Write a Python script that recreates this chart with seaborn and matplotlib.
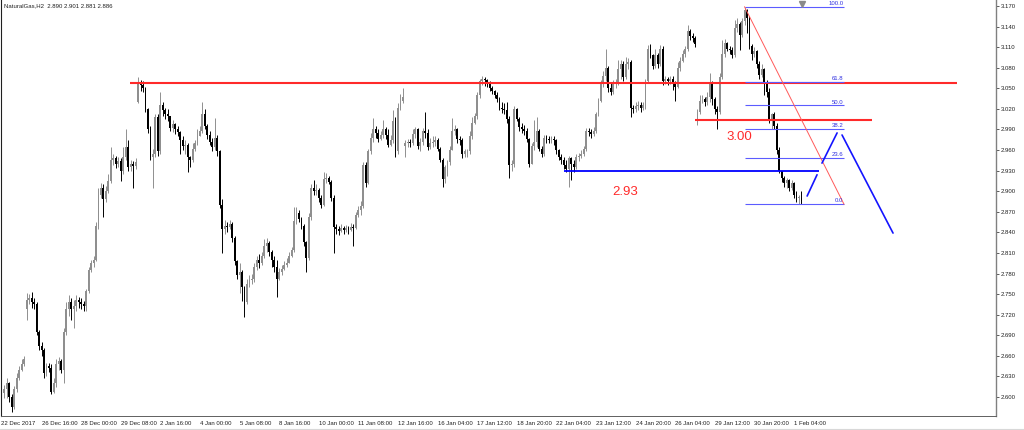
import matplotlib
matplotlib.use("Agg")
import matplotlib.pyplot as plt
import matplotlib.transforms as mtransforms
import seaborn as sns
import numpy as np
import pandas as pd

symbol = "NaturalGas,H2"
last_quote = "2.890 2.901 2.881 2.886"

# H2 candles (open = previous close unless listed in gap_open)
close = [
    2.612, 2.620, 2.600, 2.585, 2.612, 2.628, 2.640, 2.648, 2.655,
    2.742, 2.745, 2.738, 2.735, 2.695, 2.675, 2.668, 2.635, 2.645, 2.643, 2.608, 2.620, 2.648, 2.652,
    2.640, 2.695, 2.728, 2.738, 2.728, 2.733, 2.742, 2.738, 2.735, 2.732,
    2.755, 2.785, 2.795, 2.800, 2.850, 2.895, 2.905, 2.888, 2.900, 2.915, 2.945, 2.948, 2.940, 2.944,
    2.930, 2.950, 2.965, 2.935, 2.940, 2.937, 2.942,
    3.058, 3.055, 3.050, 3.020, 2.990, 2.950, 2.955, 3.008, 2.958, 3.025, 3.018, 3.012, 3.010, 2.992,
    2.998, 2.990, 2.986, 2.975, 2.966, 2.968, 2.950, 2.946, 2.962, 2.970, 2.980, 2.988, 3.012, 2.995,
    2.982, 2.972, 2.965, 2.978, 2.958, 2.880, 2.845,
    2.850, 2.848, 2.852, 2.832, 2.798, 2.778, 2.782, 2.760, 2.738, 2.765,
    2.770, 2.772, 2.790, 2.800, 2.795, 2.805, 2.820, 2.825, 2.812, 2.800,
    2.790, 2.772, 2.782, 2.786, 2.792, 2.796, 2.806, 2.814, 2.856, 2.868,
    2.860, 2.850, 2.826, 2.802, 2.862, 2.905, 2.900, 2.902, 2.890, 2.880,
    2.918, 2.920, 2.914, 2.890, 2.848, 2.845, 2.842, 2.846, 2.844, 2.846,
    2.843, 2.848, 2.846, 2.865, 2.872, 2.878, 2.938, 2.912, 2.958, 2.978,
    2.990, 2.985, 2.976, 2.982, 2.990, 2.982, 2.968, 2.975, 3.002, 2.958,
    3.022, 3.032, 3.038,
    2.970, 2.972, 2.970, 2.984, 2.990, 2.966, 2.972, 2.988, 2.985, 2.964,
    2.970, 2.972, 2.975, 2.962, 2.946, 2.918, 2.935, 2.942, 2.960, 2.988,
    2.990, 2.976, 2.974, 2.955, 2.958, 2.958, 2.980, 3.000, 3.010, 3.040,
    3.060, 3.064, 3.062, 3.058, 3.050, 3.046, 3.040, 3.035, 3.022, 3.020,
    3.018, 3.006, 2.938, 2.940, 3.020, 3.006, 2.993, 2.990, 2.988, 2.976,
    2.940, 2.966, 2.972, 2.988, 2.962, 2.955, 2.978, 2.976, 2.975, 2.976,
    2.974, 2.960, 2.950, 2.946, 2.938, 2.932, 2.948, 2.940, 2.936, 2.950,
    2.952, 2.955, 2.962, 2.988, 2.986, 2.984, 2.988, 3.012, 3.032, 3.056,
    3.068, 3.080,
    3.050, 3.045, 3.056, 3.058, 3.078, 3.086, 3.066, 3.086, 3.088, 3.022,
    3.020, 3.024, 3.026, 3.022, 3.025, 3.060, 3.108, 3.098, 3.082, 3.098,
    3.085, 3.108, 3.060, 3.063, 3.060, 3.064, 3.056, 3.052, 3.080, 3.090,
    3.100, 3.108, 3.134, 3.126, 3.124, 3.114, 3.016, 3.032, 3.034, 3.030,
    3.038, 3.058, 3.034, 3.020, 3.016, 3.066, 3.100, 3.116, 3.108, 3.106,
    3.098, 3.138, 3.144, 3.128, 3.148, 3.164, 3.152, 3.112, 3.100, 3.104,
    3.086, 3.070, 3.078, 3.056, 3.045, 3.006, 3.012, 2.995, 2.960, 2.930,
    2.920, 2.912, 2.916, 2.905, 2.912, 2.895, 2.890, 2.890, 2.886,
]
high = [
    2.618, 2.628, 2.622, 2.605, 2.616, 2.635, 2.645, 2.655, 2.660,
    2.752, 2.750, 2.753, 2.745, 2.738, 2.698, 2.680, 2.672, 2.650, 2.650, 2.648, 2.628, 2.655, 2.658,
    2.655, 2.700, 2.738, 2.748, 2.745, 2.742, 2.748, 2.746, 2.744, 2.740,
    2.758, 2.790, 2.800, 2.806, 2.855, 2.905, 2.912, 2.910, 2.908, 2.925, 2.965, 2.955, 2.952, 2.950,
    2.948, 2.965, 2.990, 2.975, 2.946, 2.944, 2.948,
    3.066, 3.062, 3.060, 3.052, 3.022, 2.995, 2.962, 3.012, 3.012, 3.045, 3.030, 3.022, 3.020, 3.010,
    3.004, 3.000, 2.995, 2.988, 2.980, 2.975, 2.970, 2.952, 2.970, 2.975, 2.990, 2.995, 3.030, 3.020,
    2.998, 2.988, 2.978, 3.007, 2.982, 2.960, 2.888,
    2.858, 2.855, 2.858, 2.855, 2.835, 2.800, 2.796, 2.785, 2.762, 2.772,
    2.778, 2.780, 2.796, 2.805, 2.808, 2.812, 2.830, 2.832, 2.828, 2.815,
    2.805, 2.800, 2.788, 2.792, 2.798, 2.802, 2.812, 2.818, 2.877, 2.877,
    2.872, 2.862, 2.852, 2.828, 2.868, 2.910, 2.916, 2.910, 2.905, 2.895,
    2.928, 2.926, 2.922, 2.916, 2.894, 2.852, 2.850, 2.852, 2.850, 2.851,
    2.850, 2.853, 2.852, 2.870, 2.878, 2.886, 2.942, 2.942, 2.962, 2.985,
    3.007, 2.995, 2.990, 2.988, 3.004, 2.994, 2.990, 2.982, 3.018, 3.008,
    3.028, 3.042, 3.050,
    2.975, 2.976, 2.976, 2.990, 2.994, 2.992, 2.978, 2.992, 3.015, 2.990,
    2.978, 2.980, 2.980, 2.978, 2.964, 2.948, 2.938, 2.945, 2.966, 3.007,
    2.996, 2.992, 2.980, 2.978, 2.962, 2.962, 2.988, 3.008, 3.014, 3.044,
    3.064, 3.068, 3.066, 3.064, 3.060, 3.054, 3.048, 3.045, 3.038, 3.030,
    3.028, 3.030, 3.010, 2.946, 3.024, 3.022, 3.008, 3.000, 2.996, 2.992,
    2.978, 2.970, 3.004, 3.008, 2.990, 2.966, 2.982, 2.982, 2.980, 2.980,
    2.980, 2.976, 2.962, 2.954, 2.950, 2.946, 2.952, 2.950, 2.945, 2.955,
    2.956, 2.960, 2.966, 2.992, 2.992, 2.990, 2.994, 3.016, 3.036, 3.062,
    3.075, 3.108,
    3.082, 3.058, 3.062, 3.064, 3.092, 3.092, 3.090, 3.095, 3.094, 3.092,
    3.026, 3.030, 3.032, 3.030, 3.030, 3.064, 3.113, 3.115, 3.100, 3.108,
    3.102, 3.113, 3.112, 3.068, 3.066, 3.068, 3.068, 3.060, 3.088, 3.095,
    3.106, 3.112, 3.142, 3.136, 3.130, 3.126, 3.020, 3.040, 3.040, 3.038,
    3.044, 3.073, 3.060, 3.038, 3.024, 3.072, 3.120, 3.122, 3.118, 3.112,
    3.110, 3.149, 3.152, 3.146, 3.152, 3.169, 3.166, 3.156, 3.114, 3.110,
    3.106, 3.090, 3.086, 3.080, 3.062, 3.050, 3.014, 3.015, 3.000, 2.964,
    2.928, 2.922, 2.920, 2.918, 2.916, 2.914, 2.900, 2.895, 2.901,
]
low = [
    2.598, 2.598, 2.592, 2.578, 2.582, 2.608, 2.625, 2.638, 2.645,
    2.712, 2.735, 2.730, 2.728, 2.690, 2.668, 2.660, 2.628, 2.630, 2.636, 2.604, 2.606, 2.615, 2.640,
    2.635, 2.620, 2.690, 2.718, 2.712, 2.700, 2.725, 2.730, 2.728, 2.726,
    2.725, 2.752, 2.782, 2.790, 2.798, 2.845, 2.890, 2.862, 2.885, 2.898, 2.912, 2.938, 2.934, 2.936,
    2.915, 2.925, 2.945, 2.930, 2.930, 2.905, 2.932,
    3.028, 3.046, 3.045, 3.015, 2.985, 2.945, 2.905, 2.950, 2.952, 2.955, 3.010, 3.005, 3.002, 2.988,
    2.986, 2.984, 2.980, 2.955, 2.960, 2.955, 2.928, 2.935, 2.942, 2.958, 2.968, 2.980, 2.985, 2.990,
    2.976, 2.968, 2.958, 2.960, 2.952, 2.875, 2.810,
    2.838, 2.840, 2.845, 2.826, 2.792, 2.772, 2.752, 2.740, 2.716, 2.735,
    2.760, 2.765, 2.768, 2.785, 2.788, 2.792, 2.802, 2.812, 2.806, 2.790,
    2.782, 2.746, 2.770, 2.778, 2.785, 2.790, 2.798, 2.804, 2.812, 2.852,
    2.855, 2.845, 2.820, 2.782, 2.800, 2.858, 2.894, 2.895, 2.884, 2.875,
    2.878, 2.912, 2.910, 2.886, 2.810, 2.838, 2.836, 2.840, 2.838, 2.840,
    2.838, 2.842, 2.820, 2.845, 2.862, 2.866, 2.875, 2.906, 2.910, 2.955,
    2.972, 2.978, 2.972, 2.975, 2.978, 2.976, 2.964, 2.966, 2.970, 2.950,
    2.955, 3.018, 3.028,
    2.950, 2.964, 2.965, 2.968, 2.978, 2.962, 2.958, 2.968, 2.978, 2.960,
    2.962, 2.965, 2.966, 2.958, 2.942, 2.906, 2.912, 2.922, 2.938, 2.960,
    2.982, 2.970, 2.968, 2.948, 2.950, 2.950, 2.955, 2.976, 2.998, 3.006,
    3.036, 3.055, 3.054, 3.052, 3.046, 3.042, 3.036, 3.030, 3.018, 3.014,
    3.012, 3.000, 2.920, 2.930, 2.936, 3.002, 2.988, 2.985, 2.982, 2.972,
    2.935, 2.940, 2.960, 2.965, 2.958, 2.950, 2.952, 2.970, 2.970, 2.970,
    2.968, 2.955, 2.945, 2.940, 2.932, 2.928, 2.906, 2.916, 2.928, 2.932,
    2.944, 2.948, 2.952, 2.958, 2.980, 2.978, 2.980, 2.985, 3.010, 3.030,
    3.052, 3.060,
    3.045, 3.040, 3.042, 3.050, 3.055, 3.064, 3.060, 3.064, 3.078, 3.008,
    3.014, 3.016, 3.018, 3.016, 3.018, 3.020, 3.058, 3.094, 3.078, 3.080,
    3.080, 3.082, 3.055, 3.056, 3.055, 3.057, 3.048, 3.031, 3.050, 3.076,
    3.088, 3.096, 3.104, 3.120, 3.118, 3.110, 2.996, 3.012, 3.028, 3.024,
    3.026, 3.030, 3.025, 3.012, 2.991, 3.012, 3.064, 3.096, 3.104, 3.100,
    3.094, 3.096, 3.132, 3.106, 3.125, 3.142, 3.130, 3.108, 3.092, 3.096,
    3.080, 3.064, 3.066, 3.040, 3.038, 3.000, 2.991, 2.990, 2.955, 2.926,
    2.914, 2.906, 2.905, 2.900, 2.902, 2.890, 2.884, 2.882, 2.881,
]
gap_open = {0: 2.606, 9: 2.728, 54: 3.030, 162: 2.966, 280: 3.006, 322: 2.890}

time_labels = ["22 Dec 2017", "26 Dec 16:00", "28 Dec 00:00", "29 Dec 08:00", "2 Jan 16:00",
               "4 Jan 00:00", "5 Jan 08:00", "8 Jan 16:00", "10 Jan 00:00", "11 Jan 08:00",
               "12 Jan 16:00", "16 Jan 04:00", "17 Jan 12:00", "18 Jan 20:00", "22 Jan 04:00",
               "23 Jan 12:00", "24 Jan 20:00", "26 Jan 04:00", "29 Jan 12:00", "30 Jan 20:00",
               "1 Feb 04:00"]
price_ticks = [2.600, 2.630, 2.660, 2.690, 2.720, 2.750, 2.780, 2.810, 2.840, 2.870,
               2.900, 2.930, 2.960, 2.990, 3.020, 3.050, 3.080, 3.110, 3.140, 3.170]

# drawn objects (bar index, price)
resistance = 3.058
resistance_span = (50.7, 385.0)
support = 3.004
support_span = (279.0, 350.5)
blue_level = 2.930
blue_span = (226.0, 329.0)
zigzag = [[(324.3, 2.893), (328.3, 2.924)],
          [(330.3, 2.941), (336.4, 2.985)],
          [(338.4, 2.982), (359.0, 2.839)]]
fib_span = (299.0, 339.2)
fib_ratios = [1.0, 0.618, 0.5, 0.382, 0.236, 0.0]
fib_labels = ["100.0", "61.8", "50.0", "38.2", "23.6", "0.0"]
notes = [("3.00", 296.8, 2.979), ("2.93", 250.7, 2.899)]

df = pd.DataFrame({"close": close, "high": high, "low": low})
df["open"] = df["close"].shift(1)
for i, v in gap_open.items():
    df.loc[i, "open"] = v
df["high"] = df[["high", "open", "close"]].max(axis=1)
df["low"] = df[["low", "open", "close"]].min(axis=1)
df["bar"] = np.arange(len(df))
up = df["close"] >= df["open"]

sns.set_style("white")
plt.rcParams["font.family"] = ["Liberation Sans", "DejaVu Sans"]

fig = plt.figure(figsize=(10.24, 4.30), dpi=100)
ax = fig.add_axes([1 / 1024, 14 / 430, 995 / 1024, 416 / 430])

bull, bear = "#8f8f8f", "#000000"
colors = np.where(up, bull, bear)
ax.vlines(df["bar"], df["low"], df["high"], colors=colors, lw=0.7, zorder=3)
body = (df["close"] - df["open"]).abs().clip(lower=0.0012)
ax.bar(df["bar"], body, bottom=df[["open", "close"]].min(axis=1), width=0.75,
       color=colors, linewidth=0, zorder=4)

red = "#ff2a2a"
ax.hlines(resistance, *resistance_span, color=red, lw=1.5, zorder=5)
ax.hlines(support, *support_span, color=red, lw=1.5, zorder=5)
ax.hlines(blue_level, *blue_span, color="#0000ff", lw=1.3, zorder=5)

# fibonacci retracement
fib_top = df["high"].iloc[int(fib_span[0])]
fib_bot = df["low"].iloc[-1]
for r, lab in zip(fib_ratios, fib_labels):
    lvl = fib_bot + r * (fib_top - fib_bot)
    ax.hlines(lvl, *fib_span, color="#5c5cff", lw=0.8, zorder=5)
    ax.text(fib_span[1] - 0.3, lvl + 0.0012, lab, color="#3030e0", fontsize=4.3,
            ha="right", va="bottom", zorder=6)
ax.plot(fib_span, [fib_top, fib_bot], color="#ff5a5a", lw=0.7, zorder=5)

for seg in zigzag:
    xs, ys = zip(*seg)
    sns.lineplot(x=list(xs), y=list(ys), ax=ax, color="#1414ff", lw=1.2, sort=False,
                 estimator=None, zorder=6)

for txt, bx, py in notes:
    ax.text(bx, py, txt, color=red, fontsize=9.5, ha="center", va="center", zorder=6)

# chart-shift marker
trans = mtransforms.blended_transform_factory(ax.transData, ax.transAxes)
ax.plot([len(df) - 0.7], [0.991], marker="v", color="#8a8a8a", markersize=4.5,
        transform=trans, clip_on=False, zorder=7)

ax.text(0.003, 0.993, f"{symbol}  {last_quote}", transform=ax.transAxes, fontsize=4.3,
        ha="left", va="top", color="#202020")

x_left, x_right = -1.37, 400.6
ax.set_xlim(x_left, x_right)
ax.set_ylim(2.5723, 3.1788)

tick_pos = [x_left + 0.1] + [15 + 16 * k for k in range(len(time_labels) - 1)]
ax.set_xticks(tick_pos)
ax.set_xticklabels(time_labels, ha="left", fontsize=4.3, color="#202020")
ax.yaxis.tick_right()
ax.set_yticks(price_ticks)
ax.set_yticklabels([f"{p:.3f}" for p in price_ticks], fontsize=4.3, color="#202020")
ax.tick_params(axis="x", direction="out", length=2.5, width=0.6, pad=1, color="#404040")
ax.tick_params(axis="y", direction="out", length=2.2, width=0.6, pad=1, color="#404040")
ax.set_xlabel("")
ax.set_ylabel("")

for side in ["top"]:
    ax.spines[side].set_visible(False)
ax.spines["left"].set_color("#202020")
ax.spines["left"].set_linewidth(0.8)
ax.spines["bottom"].set_color("#606060")
ax.spines["bottom"].set_linewidth(0.7)
ax.spines["right"].set_color("#808080")
ax.spines["right"].set_linewidth(1.0)

fig.add_artist(plt.Line2D([0, 1], [1.5 / 430, 1.5 / 430], color="#d8d8d8", lw=0.8))

fig.savefig("out.png", dpi=100)
